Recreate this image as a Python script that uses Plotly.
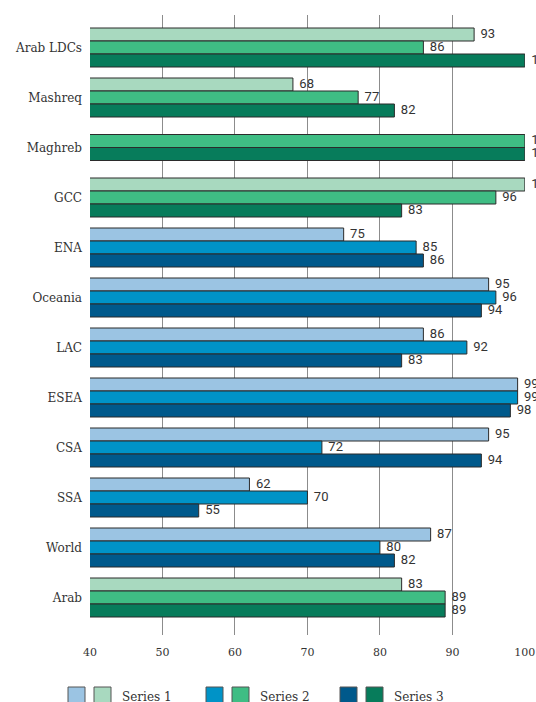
import plotly.graph_objects as go

# ---- data ----
categories = ["Arab LDCs", "Mashreq", "Maghreb", "GCC", "ENA", "Oceania",
              "LAC", "ESEA", "CSA", "SSA", "World", "Arab"]
region_group = ["arab", "arab", "arab", "arab", "other", "other",
                "other", "other", "other", "other", "other", "arab"]
series_names = ["Series 1", "Series 2", "Series 3"]
series1 = [93, 68, None, 100, 75, 95, 86, 99, 95, 62, 87, 83]
series2 = [86, 77, 100, 96, 85, 96, 92, 99, 72, 70, 80, 89]
series3 = [100, 82, 100, 83, 86, 94, 83, 98, 94, 55, 82, 89]
x_ticks = [40, 50, 60, 70, 80, 90, 100]

# ---- styles ----
palette = {
    "other": ["#9bc4e3", "#0093c7", "#00598b"],
    "arab": ["#a8d9bf", "#3fbd84", "#077c5b"],
}
W, H = 536, 702
ML, MR, MT, MB = 90, 11, 15, 67
BAR_W = 0.26
serif = "DejaVu Serif"
sans = "Roboto"
txt_col = "#333333"

series_all = [series1, series2, series3]
idx = list(range(len(categories)))

# offsets so that each group of present bars is centred on its category
offsets = [[0] * len(categories) for _ in series_all]
for i in idx:
    present = [s for s in range(3) if series_all[s][i] is not None]
    start = -len(present) * BAR_W / 2
    for k, s in enumerate(present):
        offsets[s][i] = start + k * BAR_W

fig = go.Figure()
for s, vals in enumerate(series_all):
    cols = [palette[g][s] for g in region_group]
    fig.add_trace(go.Bar(
        y=idx, x=vals, orientation="h", name=series_names[s],
        base=0, offset=offsets[s], width=BAR_W,
        marker=dict(color=cols, line=dict(color="#2b2b2b", width=1)),
        cliponaxis=False, showlegend=False, hoverinfo="x+name",
    ))
# value labels
for s, vals in enumerate(series_all):
    ys = [i + offsets[s][i] + BAR_W / 2 for i in idx]
    fig.add_trace(go.Scatter(
        x=vals, y=ys, mode="text",
        text=[("\u00a0\u00a0" + str(v)) if v is not None else "" for v in vals],
        textposition="middle right", cliponaxis=False,
        textfont=dict(family=sans, size=13, color=txt_col),
        showlegend=False, hoverinfo="skip",
    ))

fig.update_layout(
    width=W, height=H, autosize=False,
    margin=dict(l=ML, r=MR, t=MT, b=MB, pad=0),
    plot_bgcolor="white", paper_bgcolor="white",
    barmode="overlay",
    xaxis=dict(range=[40, 100.02], tickvals=x_ticks, showgrid=True,
               gridcolor="#8c8c8c", gridwidth=1, zeroline=False, showline=False,
               ticks="", ticklabelstandoff=9, ticklabeloverflow="allow",
               automargin=False,
               tickfont=dict(family=serif, size=11, color=txt_col)),
    yaxis=dict(tickvals=idx, ticktext=categories,
               range=[11.75, -0.65], showgrid=False, zeroline=False,
               showline=False, ticks="", ticklabelstandoff=7,
               automargin=False,
               tickfont=dict(family=serif, size=12, color=txt_col)),
)

# ---- custom legend (two swatches per series) ----
pw, ph = W - ML - MR, H - MT - MB


def px_x(px):
    return (px - ML) / pw


def px_y(py):
    return (H - MB - py) / ph


legend_x = [68, 206, 340]
for s in range(3):
    x0 = legend_x[s]
    for j, g in enumerate(["other", "arab"]):
        sx = x0 + j * 26
        fig.add_shape(type="rect", xref="paper", yref="paper",
                      x0=px_x(sx), x1=px_x(sx + 17), y0=px_y(704), y1=px_y(687),
                      fillcolor=palette[g][s], line=dict(color="#555555", width=1))
    fig.add_annotation(xref="paper", yref="paper", x=px_x(x0 + 52), y=px_y(697),
                       text=series_names[s], showarrow=False, xanchor="left",
                       yanchor="middle",
                       font=dict(family=serif, size=12, color=txt_col))

fig.write_html(
    "out.html",
    config={"displayModeBar": False},
    post_script="document.body.style.margin='0';"
                "document.body.style.overflow='hidden';",
)
